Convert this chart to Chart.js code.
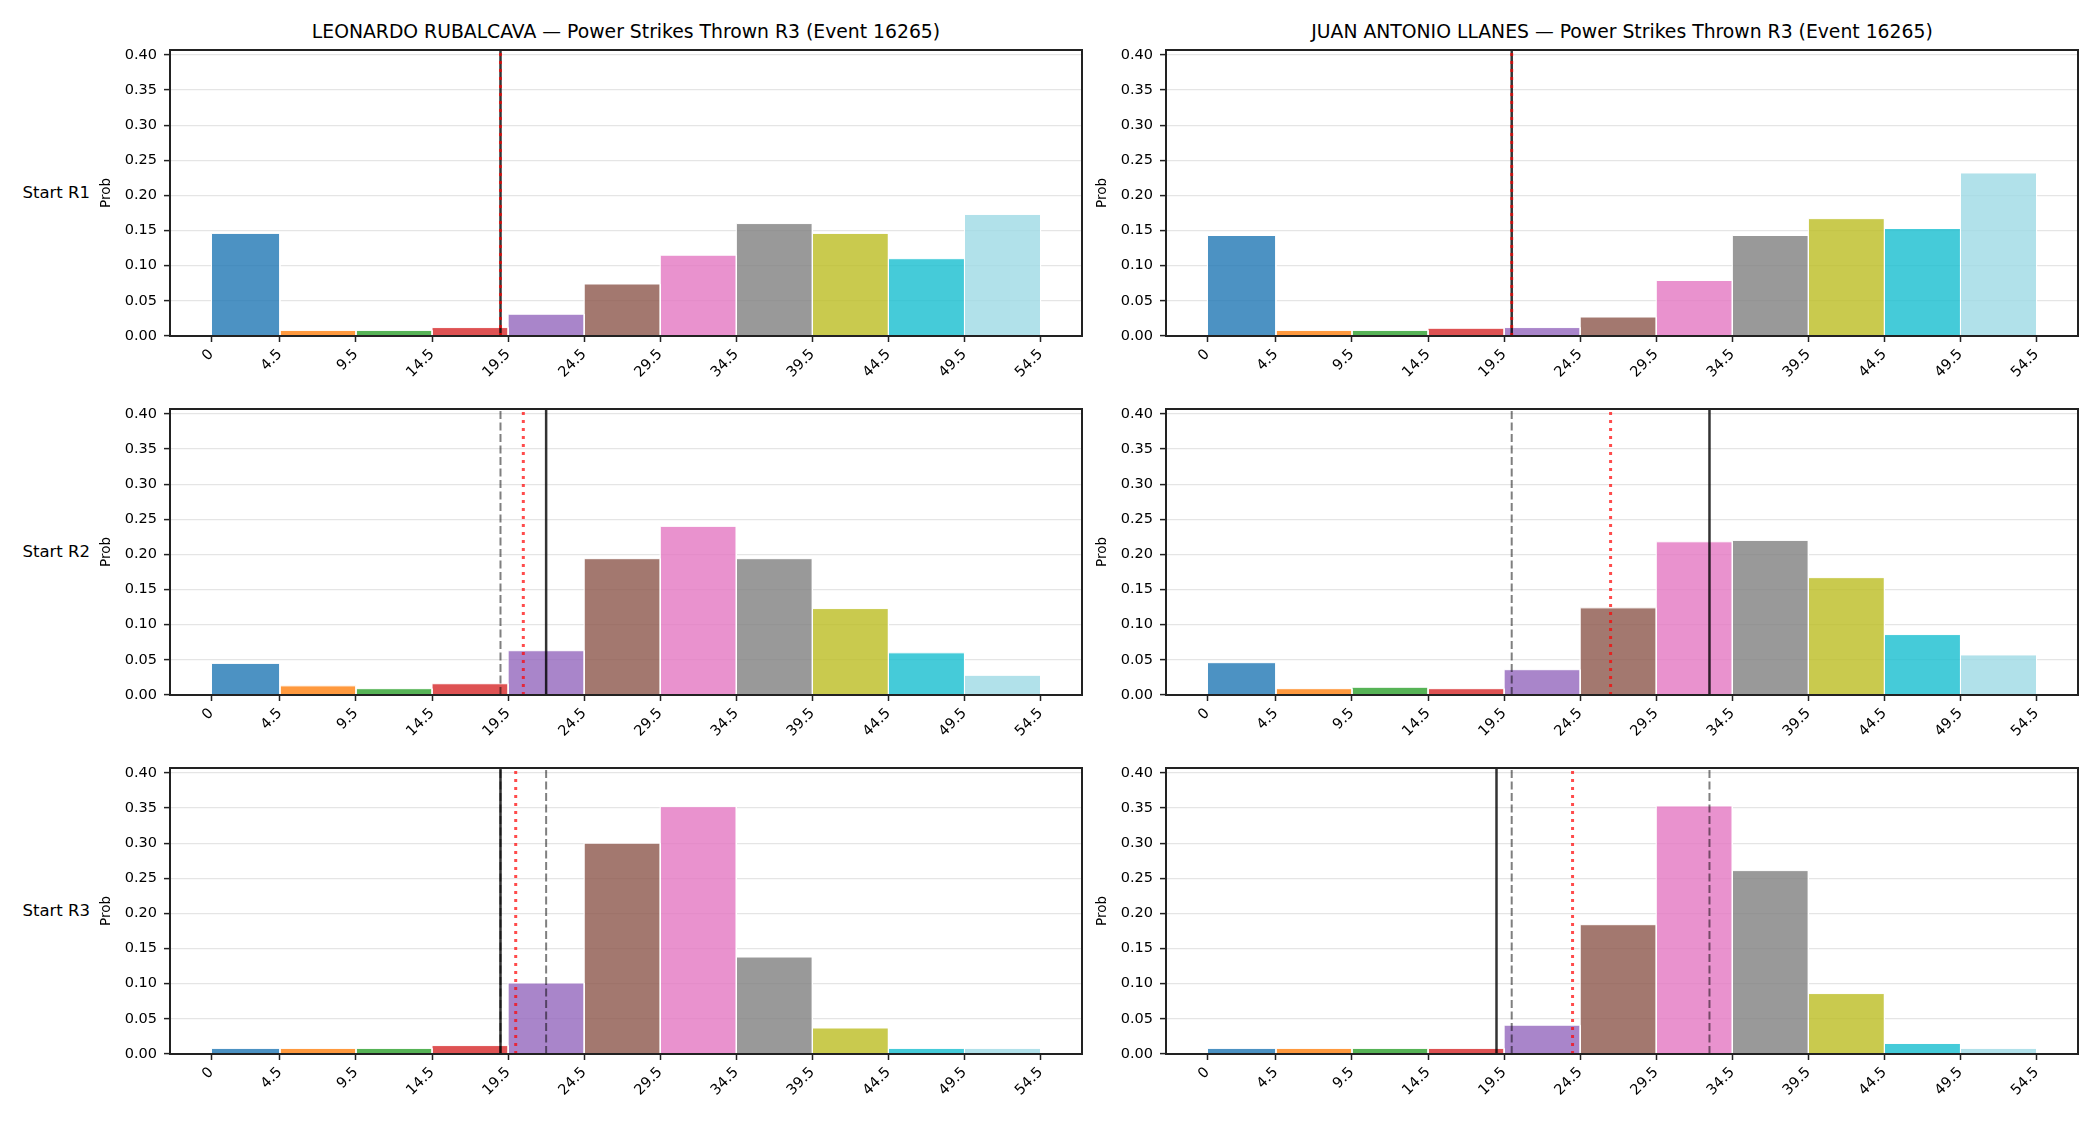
<!DOCTYPE html>
<html>
<head>
<meta charset="utf-8">
<script src="https://cdn.jsdelivr.net/npm/chart.js@4.4.1/dist/chart.umd.min.js"></script>
<style>
  body { margin: 0; background: #fff; }
  #wrap { position: relative; width: 2100px; height: 1125px; background: #fff; font-family: 'DejaVu Sans', sans-serif; overflow: hidden; }
  #wrap canvas { position: absolute; }
  .title { position: absolute; font-size: 18.8px; color: #000; text-align: center; white-space: nowrap; line-height: 22px; }
  .rowlab { position: absolute; font-size: 16.5px; color: #000; text-align: right; white-space: nowrap; line-height: 22px; }
</style>
</head>
<body>
<div id="wrap"></div>
<script>
// histogram bins + tick labels
var binEdges = [0, 4.5, 9.5, 14.5, 19.5, 24.5, 29.5, 34.5, 39.5, 44.5, 49.5, 54.5];
var xTickVals = [0, 4.5, 9.5, 14.5, 19.5, 24.5, 29.5, 34.5, 39.5, 44.5, 49.5, 54.5];
var xTickLabels = ['0', '4.5', '9.5', '14.5', '19.5', '24.5', '29.5', '34.5', '39.5', '44.5', '49.5', '54.5'];
var yTickVals = [0, 0.05, 0.10, 0.15, 0.20, 0.25, 0.30, 0.35, 0.40];
var yTickLabels = ['0.00', '0.05', '0.10', '0.15', '0.20', '0.25', '0.30', '0.35', '0.40'];
var binColors = ['#1f77b4', '#ff7f0e', '#2ca02c', '#d62728', '#9467bd', '#8c564b', '#e377c2', '#7f7f7f', '#bcbd22', '#17becf', '#9edae5'];

var fighters = ['LEONARDO RUBALCAVA', 'JUAN ANTONIO LLANES'];
var rowNames = ['Start R1', 'Start R2', 'Start R3'];

// probabilities per bin
var rubalcavaR1 = [0.146, 0.008, 0.008, 0.012, 0.031, 0.074, 0.115, 0.160, 0.146, 0.110, 0.173];
var rubalcavaR2 = [0.045, 0.013, 0.009, 0.016, 0.063, 0.194, 0.240, 0.194, 0.123, 0.060, 0.028];
var rubalcavaR3 = [0.008, 0.008, 0.008, 0.012, 0.101, 0.300, 0.352, 0.138, 0.037, 0.008, 0.008];
var llanesR1 = [0.143, 0.008, 0.008, 0.011, 0.012, 0.027, 0.079, 0.143, 0.167, 0.153, 0.232];
var llanesR2 = [0.046, 0.009, 0.011, 0.009, 0.036, 0.124, 0.218, 0.220, 0.167, 0.086, 0.057];
var llanesR3 = [0.008, 0.008, 0.008, 0.008, 0.041, 0.184, 0.353, 0.261, 0.086, 0.015, 0.008];

// vertical markers: solid black, red dotted, grey dashed
var rubalcavaSolid = [[19], [22], [19]];
var rubalcavaDotted = [[19], [20.5], [20]];
var rubalcavaDashed = [[], [19], [19, 22]];
var llanesSolid = [[20], [33], [19]];
var llanesDotted = [[20], [26.5], [24]];
var llanesDashed = [[], [20], [20, 33]];

var xMin = -2.725, xMax = 57.225, yMax = 0.407;

// layout (px)
var colLeft = [170, 1166];
var rowTop = [50, 409, 768];
var plotW = 912, plotH = 286;
var axisW = 75, xAxisH = 75, padTop = 10, padRight = 15;

var wrap = document.getElementById('wrap');

function fade(hex, a) {
    var r = parseInt(hex.substr(1, 2), 16), g = parseInt(hex.substr(3, 2), 16), b = parseInt(hex.substr(5, 2), 16);
    return 'rgba(' + r + ',' + g + ',' + b + ',' + a + ')';
}

var framePlugin = {
    id: 'frame',
    afterDatasetsDraw: function(chart) {
        var a = chart.chartArea, ctx = chart.ctx;
        ctx.save();
        ctx.strokeStyle = '#222';
        ctx.lineWidth = 2;
        ctx.strokeRect(a.left, a.top, a.right - a.left, a.bottom - a.top);
        ctx.restore();
    }
};

function vline(v, color, width, dash, order) {
    return {
        data: [{x: v, y: 0}, {x: v, y: yMax}],
        borderColor: color,
        borderWidth: width,
        borderDash: dash,
        borderCapStyle: 'butt',
        fill: false,
        pointRadius: 0,
        order: order
    };
}

function makePanel(col, row, probs, solid, dotted, dashed) {
    var canvas = document.createElement('canvas');
    var w = axisW + plotW + padRight, h = padTop + plotH + xAxisH;
    canvas.width = w;
    canvas.height = h;
    canvas.style.left = (colLeft[col] - axisW) + 'px';
    canvas.style.top = (rowTop[row] - padTop) + 'px';
    wrap.appendChild(canvas);

    var datasets = [];
    for (var i = 0; i < probs.length; i++) {
        datasets.push({
            data: [{x: binEdges[i], y: 0}, {x: binEdges[i], y: probs[i]}, {x: binEdges[i + 1], y: probs[i]}, {x: binEdges[i + 1], y: 0}],
            backgroundColor: fade(binColors[i], 0.8),
            borderColor: '#ffffff',
            borderWidth: 1,
            fill: 'origin',
            pointRadius: 0,
            tension: 0,
            order: 4
        });
    }
    solid.forEach(function(v) { datasets.push(vline(v, 'rgba(0,0,0,0.8)', 2.5, [], 3)); });
    dashed.forEach(function(v) { datasets.push(vline(v, 'rgba(0,0,0,0.5)', 2, [8, 3.5], 2)); });
    dotted.forEach(function(v) { datasets.push(vline(v, 'rgba(255,0,0,0.7)', 3, [3, 5], 1)); });

    var chart = new Chart(canvas.getContext('2d'), {
        type: 'line',
        data: {datasets: datasets},
        options: {
            responsive: false,
            animation: false,
            devicePixelRatio: 1,
            layout: {autoPadding: false, padding: {top: padTop, right: padRight, left: 0, bottom: 0}},
            plugins: {legend: {display: false}, tooltip: {enabled: false}},
            scales: {
                x: {
                    type: 'linear',
                    min: xMin,
                    max: xMax,
                    afterBuildTicks: function(s) { s.ticks = xTickVals.map(function(v) { return {value: v}; }); },
                    afterFit: function(s) { s.height = xAxisH; s.paddingLeft = 0; s.paddingRight = 0; },
                    ticks: {
                        autoSkip: false, minRotation: 45, maxRotation: 45, padding: 4,
                        color: '#000', font: {size: 14.5},
                        callback: function(v, i) { return xTickLabels[i]; }
                    },
                    grid: {drawOnChartArea: false, drawTicks: true, tickLength: 6, tickColor: '#222', tickWidth: 1.5},
                    border: {display: false}
                },
                y: {
                    min: 0,
                    max: yMax,
                    afterBuildTicks: function(s) { s.ticks = yTickVals.map(function(v) { return {value: v}; }); },
                    afterFit: function(s) { s.width = axisW; s.paddingTop = 0; s.paddingBottom = 0; },
                    ticks: {
                        padding: 7, color: '#000', font: {size: 14.5},
                        callback: function(v, i) { return yTickLabels[i]; }
                    },
                    grid: {color: 'rgba(0,0,0,0.1)', lineWidth: 1.2, tickLength: 6, tickColor: '#222', tickWidth: 1.5},
                    border: {display: false},
                    title: {display: true, text: 'Prob', color: '#000', font: {size: 13.5}, padding: {top: 3, bottom: 0}}
                }
            }
        },
        plugins: [framePlugin]
    });

    // nudge the canvas if chart.js still moved the plot area
    var a = chart.chartArea;
    var dTop = a.top - padTop, dBottom = (padTop + plotH) - a.bottom, dLeft = a.left - axisW;
    if (dTop || dBottom || dLeft) {
        canvas.style.top = (rowTop[row] - padTop - dTop) + 'px';
        canvas.style.left = (colLeft[col] - axisW - dLeft) + 'px';
        chart.resize(w, h + dBottom);
    }
}

Chart.defaults.font.family = "'DejaVu Sans', sans-serif";

// titles and row labels
fighters.forEach(function(name, c) {
    var t = document.createElement('div');
    t.className = 'title';
    t.style.left = colLeft[c] + 'px';
    t.style.width = plotW + 'px';
    t.style.top = '21px';
    t.textContent = name + ' \u2014 Power Strikes Thrown R3 (Event 16265)';
    wrap.appendChild(t);
});
rowNames.forEach(function(name, r) {
    var d = document.createElement('div');
    d.className = 'rowlab';
    d.style.left = '0px';
    d.style.width = '90px';
    d.style.top = (rowTop[r] + plotH / 2 - 11) + 'px';
    d.textContent = name;
    wrap.appendChild(d);
});

var leftProbs = [rubalcavaR1, rubalcavaR2, rubalcavaR3];
var rightProbs = [llanesR1, llanesR2, llanesR3];
for (var r = 0; r < 3; r++) {
    makePanel(0, r, leftProbs[r], rubalcavaSolid[r], rubalcavaDotted[r], rubalcavaDashed[r]);
    makePanel(1, r, rightProbs[r], llanesSolid[r], llanesDotted[r], llanesDashed[r]);
}
</script>
</body>
</html>
